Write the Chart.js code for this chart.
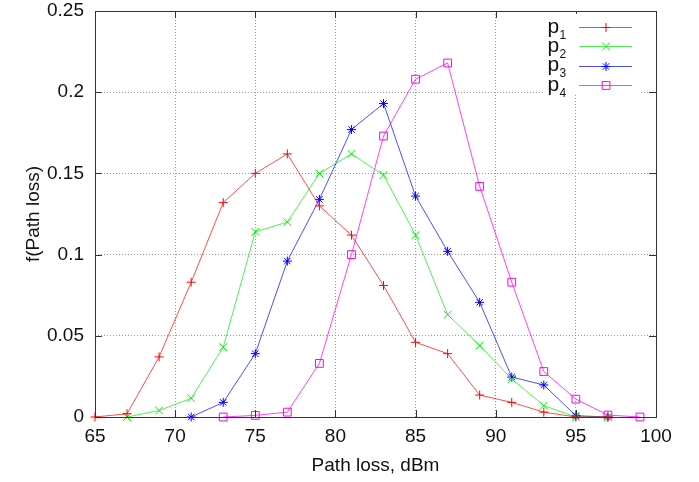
<!DOCTYPE html>
<html>
<head>
    <style>
        body {
            margin: 0;
            background-color: #ffffff;
        }

        .chart-box {
            width: 699px;
            height: 482px;
        }
    </style>
    <script src="https://cdn.jsdelivr.net/npm/chart.js"></script>
</head>
<body>
    <div class="chart-box">
        <canvas id="pathLossChart" width="699" height="482"></canvas>
    </div>
    <script>
        // path loss values (dBm), one bin every 2 dBm
        var pathLoss = [65, 67, 69, 71, 73, 75, 77, 79, 81, 83, 85, 87, 89, 91, 93, 95, 97, 99];

        // f(Path loss) for each series, null where the series has no point
        var p1 = [0, 0.002, 0.037, 0.083, 0.132, 0.150, 0.162, 0.130, 0.112, 0.081, 0.046, 0.039, 0.0135, 0.009, 0.003, 0, 0, null];
        var p2 = [null, 0, 0.004, 0.0115, 0.043, 0.114, 0.120, 0.150, 0.162, 0.149, 0.112, 0.063, 0.044, 0.0234, 0.007, 0, 0, null];
        var p3 = [null, null, null, 0, 0.009, 0.039, 0.096, 0.134, 0.177, 0.193, 0.136, 0.102, 0.0706, 0.0246, 0.0197, 0.0008, 0, null];
        var p4 = [null, null, null, null, 0, 0.001, 0.003, 0.033, 0.100, 0.173, 0.208, 0.218, 0.142, 0.083, 0.028, 0.011, 0.0012, 0];

        var seriesNames = ['1', '2', '3', '4'];   // subscripts of "p"
        var xTicks = [65, 70, 75, 80, 85, 90, 95, 100];
        var yTicks = [0, 0.05, 0.1, 0.15, 0.2, 0.25];

        var fontFamily = '"Liberation Sans", Arial, Helvetica, sans-serif';

        // turn a value array into {x, y} points, skipping missing bins
        function toPoints(values) {
            var pts = [];
            for (var i = 0; i < pathLoss.length; i++) {
                if (values[i] !== null) {
                    pts.push({ x: pathLoss[i], y: values[i] });
                }
            }
            return pts;
        }

        function makeSeries(values, color, lineColor, style, radius) {
            return {
                data: toPoints(values),
                borderColor: lineColor,
                backgroundColor: 'rgba(0,0,0,0)',
                borderWidth: 1,
                pointStyle: style,
                pointRadius: radius,
                pointHoverRadius: radius,
                pointBorderColor: color,
                pointBackgroundColor: 'rgba(0,0,0,0)',
                pointBorderWidth: 1,
                tension: 0,
                clip: false
            };
        }

        // small marker drawer used by the legend
        function drawMarker(ctx, style, x, y, r) {
            ctx.beginPath();
            if (style === 'cross') {
                ctx.moveTo(x - r, y); ctx.lineTo(x + r, y);
                ctx.moveTo(x, y - r); ctx.lineTo(x, y + r);
            } else if (style === 'crossRot') {
                var d = r * Math.SQRT1_2;
                ctx.moveTo(x - d, y - d); ctx.lineTo(x + d, y + d);
                ctx.moveTo(x - d, y + d); ctx.lineTo(x + d, y - d);
            } else if (style === 'star') {
                var s = r * Math.SQRT1_2;
                ctx.moveTo(x - r, y); ctx.lineTo(x + r, y);
                ctx.moveTo(x, y - r); ctx.lineTo(x, y + r);
                ctx.moveTo(x - s, y - s); ctx.lineTo(x + s, y + s);
                ctx.moveTo(x - s, y + s); ctx.lineTo(x + s, y - s);
            } else if (style === 'rect') {
                var h = r * Math.SQRT1_2;
                ctx.rect(x - h, y - h, 2 * h, 2 * h);
            }
            ctx.stroke();
        }

        // border, inward ticks and the gnuplot-like legend
        var framePlugin = {
            id: 'frame',
            afterDatasetsDraw: function (chart) {
                var ctx = chart.ctx;
                var a = chart.chartArea;
                var xs = chart.scales.x;
                var ys = chart.scales.y;

                ctx.save();
                ctx.strokeStyle = '#333333';
                ctx.lineWidth = 1;
                ctx.beginPath();
                xTicks.forEach(function (t) {
                    var px = Math.round(xs.getPixelForValue(t)) + 0.5;
                    ctx.moveTo(px, a.bottom); ctx.lineTo(px, a.bottom - 7);
                    ctx.moveTo(px, a.top); ctx.lineTo(px, a.top + 7);
                });
                yTicks.forEach(function (t) {
                    var py = Math.round(ys.getPixelForValue(t)) + 0.5;
                    ctx.moveTo(a.left, py); ctx.lineTo(a.left + 7, py);
                    ctx.moveTo(a.right, py); ctx.lineTo(a.right - 7, py);
                });
                ctx.stroke();

                // legend block
                ctx.fillStyle = '#ffffff';
                ctx.fillRect(545, 14, 96, 81);
                chart.data.datasets.forEach(function (ds, i) {
                    var rowY = 27 + i * 19.4;
                    ctx.fillStyle = '#111111';
                    ctx.textBaseline = 'alphabetic';
                    ctx.textAlign = 'left';
                    ctx.font = '21px ' + fontFamily;
                    ctx.fillText('p', 547.5, rowY + 5.5);
                    ctx.font = '12px ' + fontFamily;
                    ctx.fillText(seriesNames[i], 559.5, rowY + 11.5);

                    ctx.strokeStyle = ds.borderColor;
                    ctx.lineWidth = 1;
                    ctx.beginPath();
                    ctx.moveTo(579, Math.round(rowY) + 0.5);
                    ctx.lineTo(632, Math.round(rowY) + 0.5);
                    ctx.stroke();
                    ctx.strokeStyle = ds.pointBorderColor;
                    drawMarker(ctx, ds.pointStyle, 606, Math.round(rowY) + 0.5, ds.pointRadius);
                });

                ctx.strokeStyle = '#333333';
                ctx.strokeRect(Math.round(a.left) + 0.5, Math.round(a.top) + 0.5,
                    Math.round(a.right - a.left), Math.round(a.bottom - a.top));
                ctx.restore();
            }
        };

        var ctx = document.getElementById('pathLossChart').getContext('2d');

        var pathLossChart = new Chart(ctx, {
            type: 'line',
            data: {
                datasets: [
                    makeSeries(p1, '#ff0000', 'rgba(255,0,0,0.7)', 'cross', 4.5),
                    makeSeries(p2, '#00ee00', 'rgba(0,238,0,0.7)', 'crossRot', 5.5),
                    makeSeries(p3, '#0000ff', 'rgba(0,0,255,0.7)', 'star', 4.5),
                    makeSeries(p4, '#ff00ff', 'rgba(255,0,255,0.75)', 'rect', 5.5)
                ]
            },
            options: {
                responsive: false,
                animation: false,
                maintainAspectRatio: false,
                layout: {
                    padding: { top: 0, right: 43, left: 0, bottom: 0 }
                },
                plugins: {
                    legend: { display: false },
                    tooltip: { enabled: false }
                },
                scales: {
                    x: {
                        type: 'linear',
                        min: 65,
                        max: 100,
                        afterFit: function (scale) { scale.height = 65; },
                        afterBuildTicks: function (scale) {
                            scale.ticks = xTicks.map(function (v) { return { value: v }; });
                        },
                        ticks: {
                            color: '#111111',
                            padding: 8,
                            maxRotation: 0,
                            font: { family: fontFamily, size: 19 }
                        },
                        grid: {
                            color: '#999999',
                            drawTicks: false
                        },
                        border: { display: false, dash: [1, 2] },
                        title: {
                            display: true,
                            text: 'Path loss, dBm',
                            color: '#111111',
                            padding: { top: 0, bottom: 5 },
                            font: { family: fontFamily, size: 19 }
                        }
                    },
                    y: {
                        min: 0,
                        max: 0.25,
                        afterFit: function (scale) {
                            scale.width = 95;
                            scale.paddingTop = 11;    // top edge of the plot sits at y = 11
                            scale.paddingBottom = 0;
                        },
                        afterBuildTicks: function (scale) {
                            scale.ticks = yTicks.map(function (v) { return { value: v }; });
                        },
                        ticks: {
                            color: '#111111',
                            padding: 11,
                            font: { family: fontFamily, size: 19 },
                            callback: function (v) { return String(+v.toFixed(2)); }
                        },
                        grid: {
                            color: '#999999',
                            drawTicks: false
                        },
                        border: { display: false, dash: [1, 2] },
                        title: {
                            display: true,
                            text: 'f(Path loss)',
                            color: '#111111',
                            padding: { top: 22, bottom: 0 },
                            font: { family: fontFamily, size: 19 }
                        }
                    }
                }
            },
            plugins: [framePlugin]
        });
    </script>
</body>
</html>
